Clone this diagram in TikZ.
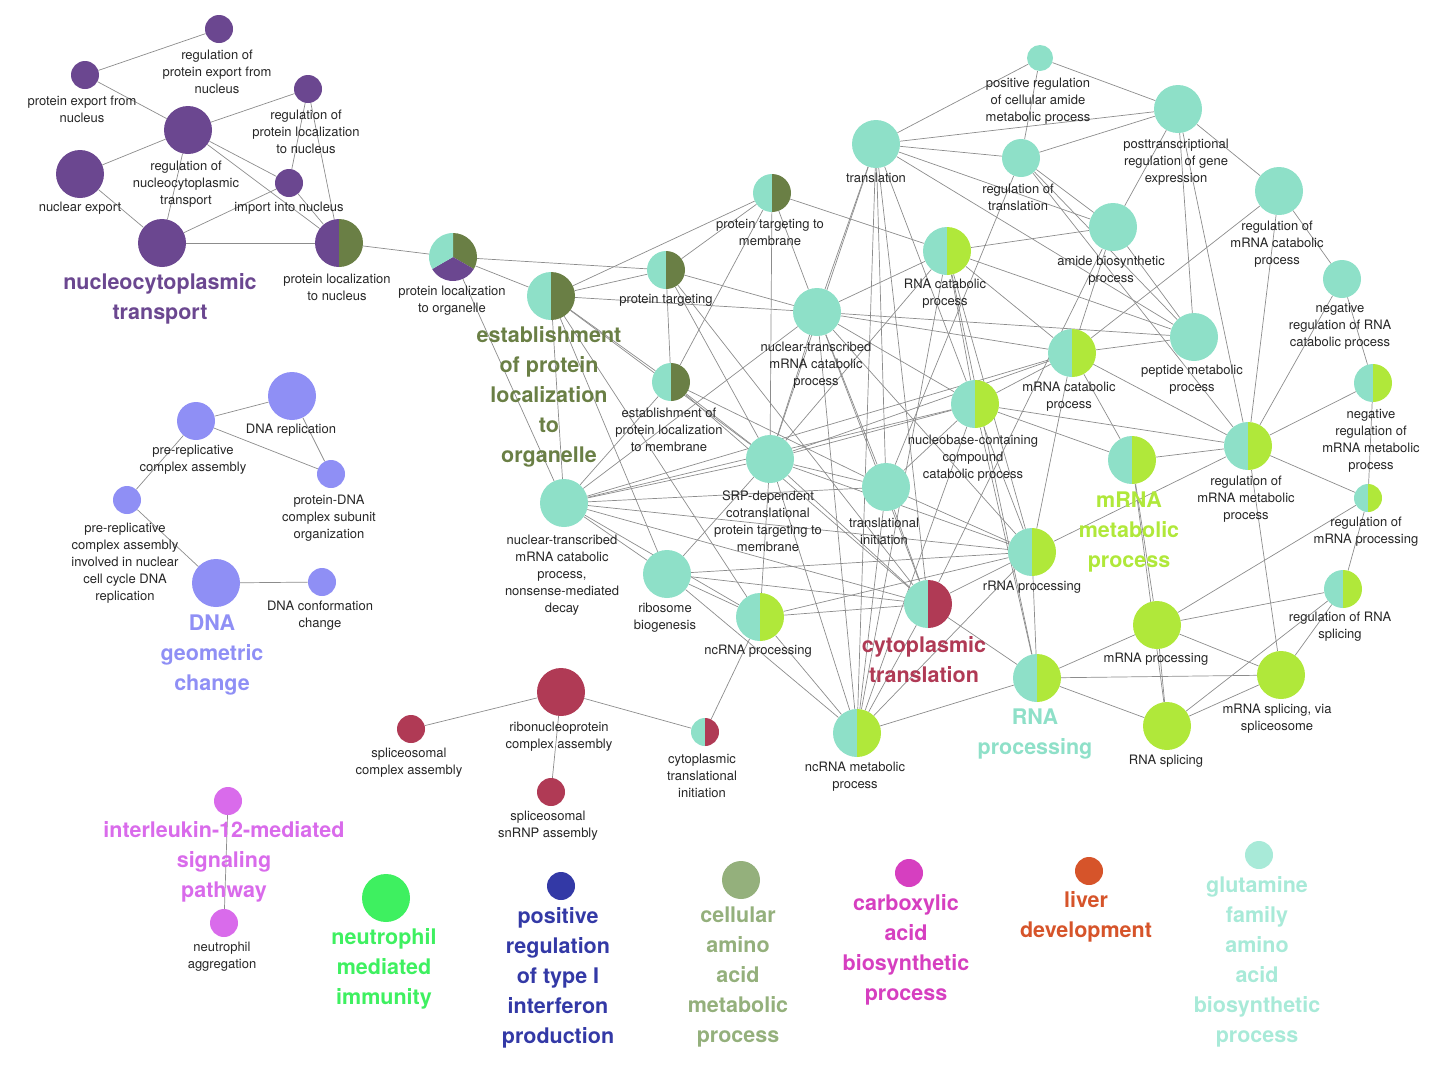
\documentclass[tikz,border=0pt]{standalone}
\usepackage{fontspec}
\setmainfont{TeX Gyre Heros}
\begin{document}
\definecolor{pur}{HTML}{6B4790}
\definecolor{olv}{HTML}{6A7F45}
\definecolor{tea}{HTML}{8EE0C8}
\definecolor{lim}{HTML}{B0E83A}
\definecolor{crm}{HTML}{B03A55}
\definecolor{blu}{HTML}{8F8FF5}
\definecolor{pnk}{HTML}{D96BEB}
\definecolor{neu}{HTML}{3EF060}
\definecolor{ifn}{HTML}{3339A6}
\definecolor{ama}{HTML}{94B07C}
\definecolor{cab}{HTML}{D63FC0}
\definecolor{liv}{HTML}{D6542A}
\definecolor{glu}{HTML}{A8EAD8}
\begin{tikzpicture}[x=1pt,y=-1pt,
  lab/.style={font=\fontsize{13}{17}\selectfont,align=center,text=black!85},
  big/.style={font=\fontsize{21.5}{30}\selectfont\bfseries,align=center},
  ed/.style={draw=black!45,line width=0.7pt}]
\useasboundingbox (0,0) rectangle (1453,1082);
\def\N#1#2#3#4{\node[circle,inner sep=0,minimum size=#4*2pt] (#1) at (#2,#3) {};}
% purple
\N{p1}{219}{29}{14}\N{p2}{85}{75}{14}\N{p3}{188}{130}{24}\N{p4}{308}{89}{14}
\N{p5}{80}{174}{24}\N{p6}{289}{183}{14}\N{p7}{162}{243}{24}\N{p8}{339}{243}{24}
% olive
\N{g1}{453}{257}{24}\N{g2}{551}{296}{24}\N{g3}{666}{270}{19}\N{g4}{772}{193}{19}\N{g5}{671}{382}{19}
% teal
\N{t1}{564}{503}{24}\N{t2}{667}{574}{24}\N{t3}{770}{459}{24}\N{t4}{817}{312}{24}\N{t5}{886}{487}{24}
\N{t6}{876}{144}{24}\N{t7}{1021}{158}{19}\N{t8}{1040}{58}{13}\N{t9}{1178}{109}{24}\N{t10}{1113}{227}{24}
\N{t11}{1279}{191}{24}\N{t12}{1194}{337}{24}\N{t13}{1342}{279}{19}
% halves
\N{h1}{947}{251}{24}\N{h2}{1072}{353}{24}\N{h3}{975}{404}{24}\N{h4}{1248}{446}{24}\N{h5}{1373}{383}{19}
\N{h6}{1132}{460}{24}\N{h7}{1368}{498}{14}\N{h8}{1032}{552}{24}\N{h9}{760}{617}{24}\N{h10}{1343}{589}{19}
\N{h11}{1037}{678}{24}\N{h12}{857}{733}{24}
\N{l1}{1157}{625}{24}\N{l2}{1281}{675}{24}\N{l3}{1167}{726}{24}
% crimson
\N{c1}{928}{604}{24}\N{c2}{561}{692}{24}\N{c3}{411}{729}{14}\N{c4}{551}{792}{14}\N{c5}{705}{732}{14}
% blue
\N{b1}{292}{396}{24}\N{b2}{196}{421}{19}\N{b3}{331}{474}{14}\N{b4}{127}{500}{14}\N{b5}{216}{583}{24}\N{b6}{322}{582}{14}
\N{k1}{228}{801}{14}\N{k2}{224}{923}{14}
% edges
\foreach \a/\b in {p1/p2,p2/p3,p3/p4,p3/p6,p3/p8,p3/p7,p4/p6,p4/p8,p5/p7,p6/p8,p7/p8,p6/p7,p3/p5,p8/g1,
 g1/g2,g1/g3,g2/g3,g2/g4,g3/g4,g2/g5,g3/g5,g4/g5,
 g1/t1,g2/t1,g2/t3,g2/t4,g2/h9,g2/t2,g3/t4,g3/t3,g3/c1,g4/t4,g4/t3,g4/h1,g5/t3,g5/t1,g5/t5,g5/c1,
 t1/t3,t1/t4,t1/t2,t1/h9,t1/c1,t1/t5,t1/h3,t1/h2,t1/h8,
 t2/t3,t2/h9,t2/h8,t2/h12,t2/c1,
 t3/t4,t3/t5,t3/c1,t3/h9,t3/h12,t3/h3,t3/h1,t3/t6,t3/h2,t3/h8,
 t4/t5,t4/h1,t4/h2,t4/h3,t4/t6,t4/c1,t4/h12,t4/h8,t4/t12,
 t5/c1,t5/t6,t5/h12,t5/h3,t5/h8,t5/t7,
 t6/t7,t6/t9,t6/t10,t6/t12,t6/c1,t6/h12,t6/h3,
 t7/t9,t7/t10,t7/t8,t7/h4,t7/t12,t8/t9,t8/t6,
 t9/t10,t9/t11,t9/h4,t9/t12,t10/t12,t10/h2,t10/c1,t10/h1,
 t11/t13,t11/h4,t11/h2,t13/h5,t13/h4,
 h1/h2,h1/h3,h1/h8,h1/h12,h1/h11,h1/t12,
 h2/h3,h2/h4,h2/h6,h2/t12,h2/h8,
 h3/h8,h3/h11,h3/h12,h3/h6,h3/h4,
 h4/h5,h4/h7,h4/h6,h4/l2,h4/h8,
 h5/h7,h7/h10,h7/l1,h10/l2,h10/l1,h10/l3,
 h6/l1,h6/l3,h8/h11,h8/h9,h8/h12,h8/c1,h9/h12,h9/c1,
 h11/l1,h11/l3,h11/l2,h11/h12,l1/l2,l1/l3,l2/l3,
 c1/h12,c1/h11,c5/h9,c3/c2,c2/c4,c2/c5,
 b2/b1,b1/b3,b2/b3,b4/b2,b4/b5,b5/b6,k1/k2}
 \draw[ed] (\a) -- (\b);
% fills
\foreach \n/\r/\c in {p1/14/pur,p2/14/pur,p3/24/pur,p4/14/pur,p5/24/pur,p6/14/pur,p7/24/pur,
 t1/24/tea,t2/24/tea,t3/24/tea,t4/24/tea,t5/24/tea,t6/24/tea,t7/19/tea,t8/13/tea,t9/24/tea,t10/24/tea,t11/24/tea,t12/24/tea,t13/19/tea,
 l1/24/lim,l2/24/lim,l3/24/lim,c2/24/crm,c3/14/crm,c4/14/crm,b1/24/blu,b2/19/blu,b3/14/blu,b4/14/blu,b5/24/blu,b6/14/blu,k1/14/pnk,k2/14/pnk}
 \fill[\c] (\n) circle[radius=\r];
\def\H#1#2#3#4{\fill[#3] (#1.center) -- ++(0,-#2) arc[start angle=-90,end angle=-270,radius=#2] -- cycle;
 \fill[#4] (#1.center) -- ++(0,-#2) arc[start angle=-90,end angle=90,radius=#2] -- cycle;}
\H{p8}{24}{pur}{olv}\H{g2}{24}{tea}{olv}\H{g3}{19}{tea}{olv}\H{g4}{19}{tea}{olv}\H{g5}{19}{tea}{olv}
\H{h1}{24}{tea}{lim}\H{h2}{24}{tea}{lim}\H{h3}{24}{tea}{lim}\H{h4}{24}{tea}{lim}\H{h5}{19}{tea}{lim}
\H{h6}{24}{tea}{lim}\H{h7}{14}{tea}{lim}\H{h8}{24}{tea}{lim}\H{h9}{24}{tea}{lim}\H{h10}{19}{tea}{lim}
\H{h11}{24}{tea}{lim}\H{h12}{24}{tea}{lim}\H{c1}{24}{tea}{crm}\H{c5}{14}{tea}{crm}
\fill[olv] (g1.center) -- ++(-90:24) arc[start angle=-90,end angle=30,radius=24] -- cycle;
\fill[pur] (g1.center) -- ++(30:24) arc[start angle=30,end angle=150,radius=24] -- cycle;
\fill[tea] (g1.center) -- ++(150:24) arc[start angle=150,end angle=270,radius=24] -- cycle;
% singletons
\fill[neu] (386,898) circle[radius=24]; \fill[ifn] (561,886) circle[radius=14];
\fill[ama] (741,880) circle[radius=19]; \fill[cab] (909,873) circle[radius=14];
\fill[liv] (1089,871) circle[radius=14]; \fill[glu] (1259,855) circle[radius=14];
% labels
\node[lab] at (217,72) {regulation of\\protein export from\\nucleus};
\node[lab] at (82,109) {protein export from\\nucleus};
\node[lab] at (186,184) {regulation of\\nucleocytoplasmic\\transport};
\node[lab] at (306,132) {regulation of\\protein localization\\to nucleus};
\node[lab] at (80,208) {nuclear export};
\node[lab] at (289,208) {import into nucleus};
\node[lab] at (337,287) {protein localization\\to nucleus};
\node[lab] at (452,301) {protein localization\\to organelle};
\node[lab] at (666,300) {protein targeting};
\node[lab] at (770,232) {protein targeting to\\membrane};
\node[lab] at (669,430) {establishment of\\protein localization\\to membrane};
\node[lab] at (562,575) {nuclear-transcribed\\mRNA catabolic\\process,\\nonsense-mediated\\decay};
\node[lab] at (665,618) {ribosome\\biogenesis};
\node[lab] at (768,521) {SRP-dependent\\cotranslational\\protein targeting to\\membrane};
\node[lab] at (816,365) {nuclear-transcribed\\mRNA catabolic\\process};
\node[lab] at (884,531) {translational\\initiation};
\node[lab] at (876,178) {translation};
\node[lab] at (1018,197) {regulation of\\translation};
\node[lab] at (1038,101) {positive regulation\\of cellular amide\\metabolic process};
\node[lab] at (1176,162) {posttranscriptional\\regulation of gene\\expression};
\node[lab] at (1111,271) {amide biosynthetic\\process};
\node[lab] at (1277,244) {regulation of\\mRNA catabolic\\process};
\node[lab] at (1192,380) {peptide metabolic\\process};
\node[lab] at (1340,326) {negative\\regulation of RNA\\catabolic process};
\node[lab] at (945,294) {RNA catabolic\\process};
\node[lab] at (1069,397) {mRNA catabolic\\process};
\node[lab] at (973,458) {nucleobase-containing\\compound\\catabolic process};
\node[lab] at (1246,499) {regulation of\\mRNA metabolic\\process};
\node[lab] at (1371,441) {negative\\regulation of\\mRNA metabolic\\process};
\node[lab] at (1366,532) {regulation of\\mRNA processing};
\node[lab] at (1032,587) {rRNA processing};
\node[lab] at (758,651) {ncRNA processing};
\node[lab] at (1340,627) {regulation of RNA\\splicing};
\node[lab] at (855,777) {ncRNA metabolic\\process};
\node[lab] at (1156,659) {mRNA processing};
\node[lab] at (1277,719) {mRNA splicing, via\\spliceosome};
\node[lab] at (1166,761) {RNA splicing};
\node[lab] at (559,737) {ribonucleoprotein\\complex assembly};
\node[lab] at (409,763) {spliceosomal\\complex assembly};
\node[lab] at (548,826) {spliceosomal\\snRNP assembly};
\node[lab] at (702,776) {cytoplasmic\\translational\\initiation};
\node[lab] at (291,430) {DNA replication};
\node[lab] at (193,460) {pre-replicative\\complex assembly};
\node[lab] at (329,518) {protein-DNA\\complex subunit\\organization};
\node[lab] at (125,563) {pre-replicative\\complex assembly\\involved in nuclear\\cell cycle DNA\\replication};
\node[lab] at (320,616) {DNA conformation\\change};
\node[lab] at (222,957) {neutrophil\\aggregation};
% big labels
\node[big,text=pur] at (160,299) {nucleocytoplasmic\\transport};
\node[big,text=olv] at (549,397) {establishment\\of protein\\localization\\to\\organelle};
\node[big,text=lim] at (1129,532) {mRNA\\metabolic\\process};
\node[big,text=crm] at (924,660) {cytoplasmic\\translation};
\node[big,text=tea] at (1035,734) {RNA\\processing};
\node[big,text=blu] at (212,655) {DNA\\geometric\\change};
\node[big,text=pnk] at (224,862) {interleukin-12-mediated\\signaling\\pathway};
\node[big,text=neu] at (384,969) {neutrophil\\mediated\\immunity};
\node[big,text=ifn] at (558,978) {positive\\regulation\\of type I\\interferon\\production};
\node[big,text=ama] at (738,977) {cellular\\amino\\acid\\metabolic\\process};
\node[big,text=cab] at (906,950) {carboxylic\\acid\\biosynthetic\\process};
\node[big,text=liv] at (1086,917) {liver\\development};
\node[big,text=glu] at (1257,962) {glutamine\\family\\amino\\acid\\biosynthetic\\process};
\end{tikzpicture}
\end{document}
